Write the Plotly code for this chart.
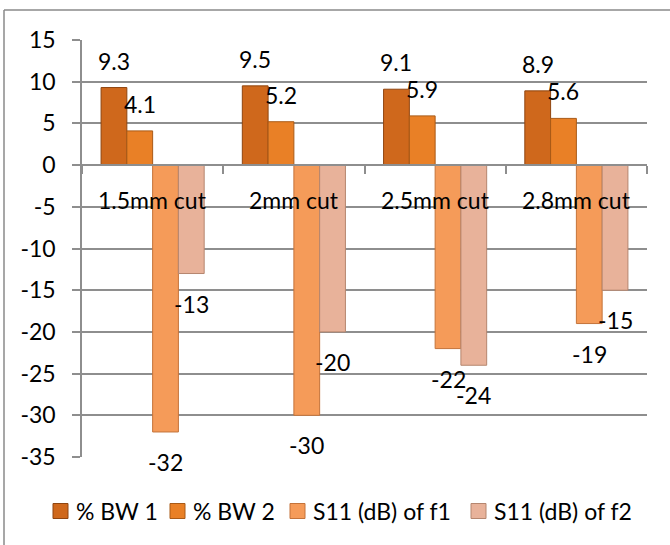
import plotly.graph_objects as go

# Chart data
categories = ["1.5mm cut", "2mm cut", "2.5mm cut", "2.8mm cut"]
series_names = ["% BW 1", "% BW 2", "S11 (dB) of f1", "S11 (dB) of f2"]
bw1 = [9.3, 9.5, 9.1, 8.9]
bw2 = [4.1, 5.2, 5.9, 5.6]
s11_f1 = [-32, -30, -22, -19]
s11_f2 = [-13, -20, -24, -15]
y_ticks = [15, 10, 5, 0, -5, -10, -15, -20, -25, -30, -35]
y_tick_labels = ["15", "10", "5", "0", "-5", "-10", "-15", "-20", "-25", "-30", "-35"]

series_values = [bw1, bw2, s11_f1, s11_f2]
fills = ["#CF681C", "#E98026", "#F59B59", "#E8B29A"]
edges = ["#8F4510", "#A95A17", "#C4733A", "#B5866F"]

FONT = "Lato"
FS = 23
GRID = "#8E8E8E"

BARGAP = 0.27
n_series = len(series_values)
bar_w = (1 - BARGAP) / n_series
x_idx = list(range(len(categories)))

W, H = 670, 545
ML, MR, MT, MB = 82, 23, 40, 88
pw, ph = W - ML - MR, H - MT - MB


def px_x(p):
    return (p - ML) / pw


def px_y(p):
    return (H - MB - p) / ph


fig = go.Figure()
for name, vals, fc, ec in zip(series_names, series_values, fills, edges):
    fig.add_trace(go.Bar(
        x=x_idx, y=vals, name=name, showlegend=False,
        marker=dict(color=fc, line=dict(color=ec, width=1)),
    ))

annotations = []
shapes = []

# value labels, placed from each bar's own value
for s, vals in enumerate(series_values):
    off = (s - (n_series - 1) / 2) * bar_w
    for i, v in enumerate(vals):
        annotations.append(dict(
            x=i + off, y=v, xref="x", yref="y", text=f"{v:g}",
            showarrow=False, yanchor="middle", xanchor="center",
            yshift=27 if v >= 0 else -30,
            font=dict(family=FONT, size=FS, color="#000000"),
        ))

# category names sit just below the zero line
for i, c in enumerate(categories):
    annotations.append(dict(
        x=i, y=0, xref="x", yref="y", text=c, showarrow=False,
        yanchor="middle", xanchor="center", yshift=-35,
        font=dict(family=FONT, size=FS, color="#000000"),
    ))

# legend row along the bottom
legend_left = [53, 170, 290, 471]
legend_cy = 511
box = 15
for name, fc, ec, lx in zip(series_names, fills, edges, legend_left):
    shapes.append(dict(
        type="rect", xref="paper", yref="paper",
        x0=px_x(lx), x1=px_x(lx + box),
        y0=px_y(legend_cy + box / 2), y1=px_y(legend_cy - box / 2),
        fillcolor=fc, line=dict(color=ec, width=1),
    ))
    annotations.append(dict(
        x=px_x(lx + box + 6), y=px_y(legend_cy), xref="paper", yref="paper",
        text=name, showarrow=False, xanchor="left", yanchor="middle",
        font=dict(family=FONT, size=FS, color="#000000"),
    ))

# chart-area frame (top and left edges)
shapes += [
    dict(type="line", xref="paper", yref="paper", x0=px_x(4), x1=px_x(700),
         y0=px_y(10), y1=px_y(10), line=dict(color="#8A8A8A", width=1.5)),
    dict(type="line", xref="paper", yref="paper", x0=px_x(4), x1=px_x(4),
         y0=px_y(10), y1=px_y(560), line=dict(color="#8A8A8A", width=1.5)),
]

fig.update_layout(
    width=W, height=H,
    margin=dict(l=ML, r=MR, t=MT, b=MB),
    paper_bgcolor="white", plot_bgcolor="white",
    barmode="group", bargap=BARGAP, bargroupgap=0,
    font=dict(family=FONT, size=FS, color="#000000"),
    showlegend=False,
    annotations=annotations,
    shapes=shapes,
    xaxis=dict(
        range=[-0.5, len(categories) - 0.5],
        tickvals=[i + 0.5 for i in range(-1, len(categories))],
        showticklabels=False, ticks="outside", ticklen=8, tickwidth=1.5,
        tickcolor=GRID, showline=True, linecolor=GRID, linewidth=1.5,
        showgrid=False, zeroline=False,
        anchor="free", position=(0 - min(y_ticks)) / (max(y_ticks) - min(y_ticks)),
    ),
    yaxis=dict(
        range=[min(y_ticks), max(y_ticks)],
        tickvals=y_ticks, ticktext=y_tick_labels,
        ticks="outside", ticklen=8, tickwidth=1.5,
        tickcolor=GRID, showline=True, linecolor=GRID, linewidth=1.5,
        showgrid=True, gridcolor=GRID, gridwidth=1.5,
        zeroline=False, ticklabelstandoff=12,
        tickfont=dict(family=FONT, size=FS, color="#000000"),
    ),
)

fig.write_html("out.html")
